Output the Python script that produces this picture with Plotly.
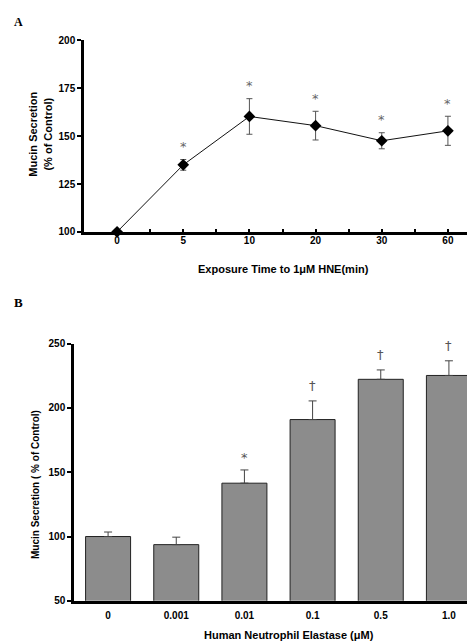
import plotly.graph_objects as go

# ---- Panel A data ----
time_labels = ["0", "5", "10", "20", "30", "60"]
mean_a = [100, 135, 160.3, 155.5, 147.6, 152.8]
err_a = [0, 2.8, 9.3, 7.5, 4.2, 7.6]
sig_a = ["", "*", "*", "*", "*", "*"]

# ---- Panel B data ----
conc_labels = ["0", "0.001", "0.01", "0.1", "0.5", "1.0"]
mean_b = [100, 93.7, 141.5, 191, 222.3, 225.3]
err_b = [3.5, 5.8, 10.3, 14.5, 7.3, 11.4]
sig_b = ["", "", "*", "†", "†", "†"]

yticks_a = [100, 125, 150, 175, 200]
yticks_b = [50, 100, 150, 200, 250]

W, H = 475, 641
FONT = "Liberation Sans, Arial, Helvetica, sans-serif"
SERIF = "Liberation Serif, Times New Roman, serif"
MARKFONT = "DejaVu Sans, sans-serif"

xa = list(range(len(time_labels)))
xb = list(range(len(conc_labels)))

fig = go.Figure()

fig.add_trace(go.Scatter(
    x=xa, y=mean_a, mode="lines+markers",
    line=dict(color="#111111", width=1),
    marker=dict(symbol="diamond", size=9, color="black"),
    error_y=dict(type="data", array=err_a, visible=True, color="#555555",
                 thickness=1, width=3),
    xaxis="x", yaxis="y", showlegend=False, cliponaxis=False))

fig.add_trace(go.Bar(
    x=xb, y=mean_b, width=0.66,
    marker=dict(color="#8c8c8c", line=dict(color="#222222", width=1)),
    error_y=dict(type="data", symmetric=False, array=err_b,
                 arrayminus=[0] * len(err_b), visible=True, color="#444444",
                 thickness=1, width=4),
    xaxis="x2", yaxis="y2", showlegend=False, cliponaxis=False))

# Half-step ticks along panel A's x axis, labels only at categories
tick_a_vals = [i / 2 for i in range(0, 2 * len(time_labels) + 1)]
tick_a_text = [time_labels[int(v)] if v == int(v) and int(v) < len(time_labels) else ""
               for v in tick_a_vals]

annotations = []
for i, s in enumerate(sig_a):
    if s:
        annotations.append(dict(x=xa[i], y=mean_a[i] + err_a[i], xref="x", yref="y",
                                text=s, showarrow=False, yanchor="middle", yshift=13,
                                font=dict(family=MARKFONT, size=13, color="#666666")))
for i, s in enumerate(sig_b):
    if s:
        annotations.append(dict(x=xb[i], y=mean_b[i] + err_b[i], xref="x2", yref="y2",
                                text=s, showarrow=False, yanchor="middle",
                                yshift=12 if s == "*" else 15,
                                font=dict(family=MARKFONT, size=13, color="#555555")))

# Axis titles and panel letters
annotations += [
    dict(x=275 / W, y=1 - 260 / H, xref="paper", yref="paper", showarrow=False,
         text="Exposure Time to 1μM HNE(min)", xanchor="center", yanchor="middle",
         font=dict(family=FONT, size=11, color="black", weight="bold")),
    dict(x=32 / W, y=1 - 123 / H, xref="paper", yref="paper", showarrow=False,
         text="Mucin Secretion<br>(% of Control)", textangle=-90,
         xanchor="center", yanchor="middle",
         font=dict(family=FONT, size=11, color="black", weight="bold")),
    dict(x=281 / W, y=1 - 633 / H, xref="paper", yref="paper", showarrow=False,
         text="Human Neutrophil Elastase (μM)", xanchor="center", yanchor="middle",
         font=dict(family=FONT, size=11, color="black", weight="bold")),
    dict(x=27 / W, y=1 - 480 / H, xref="paper", yref="paper", showarrow=False,
         text="Mucin Secretion ( % of Control)", textangle=-90,
         xanchor="center", yanchor="middle",
         font=dict(family=FONT, size=10, color="black", weight="bold")),
    dict(x=4 / W, y=1 - 8 / H, xref="paper", yref="paper", showarrow=False,
         text="A", xanchor="left", yanchor="middle",
         font=dict(family=SERIF, size=12, color="black", weight="bold")),
    dict(x=4 / W, y=1 - 294 / H, xref="paper", yref="paper", showarrow=False,
         text="B", xanchor="left", yanchor="middle",
         font=dict(family=SERIF, size=13, color="black", weight="bold")),
]

tickfont = dict(family=FONT, size=10, color="black", weight="bold")

fig.update_layout(
    width=W, height=H,
    margin=dict(l=0, r=0, t=0, b=0),
    paper_bgcolor="white", plot_bgcolor="white",
    annotations=annotations,
    xaxis=dict(domain=[76 / W, 473 / W], anchor="y", range=[-0.5, 5.5],
               tickmode="array", tickvals=tick_a_vals, ticktext=tick_a_text,
               ticks="inside", ticklen=3, tickwidth=1.5, tickcolor="black",
               showline=True, linecolor="black", linewidth=2.5,
               showgrid=False, zeroline=False, tickfont=tickfont, ticklabelstandoff=-3),
    yaxis=dict(domain=[1 - 222 / H, 1 - 27 / H], anchor="x", range=[100, 200],
               tickmode="array", tickvals=yticks_a,
               ticks="outside", ticklen=4, tickwidth=2, tickcolor="black",
               showline=True, linecolor="black", linewidth=2.5,
               showgrid=False, zeroline=False, tickfont=tickfont),
    xaxis2=dict(domain=[66 / W, 1.0], anchor="y2", range=[-0.5, 5.5],
                tickmode="array", tickvals=xb, ticktext=conc_labels,
                ticks="", showline=True, linecolor="black", linewidth=2.5,
                showgrid=False, zeroline=False, tickfont=tickfont, ticklabelstandoff=3),
    yaxis2=dict(domain=[1 - 598 / H, 1 - 336 / H], anchor="x2", range=[50, 250],
                tickmode="array", tickvals=yticks_b,
                ticks="outside", ticklen=4, tickwidth=2, tickcolor="black",
                showline=True, linecolor="black", linewidth=2.5,
                showgrid=False, zeroline=False, tickfont=tickfont),
)

fig.write_html("out.html")
